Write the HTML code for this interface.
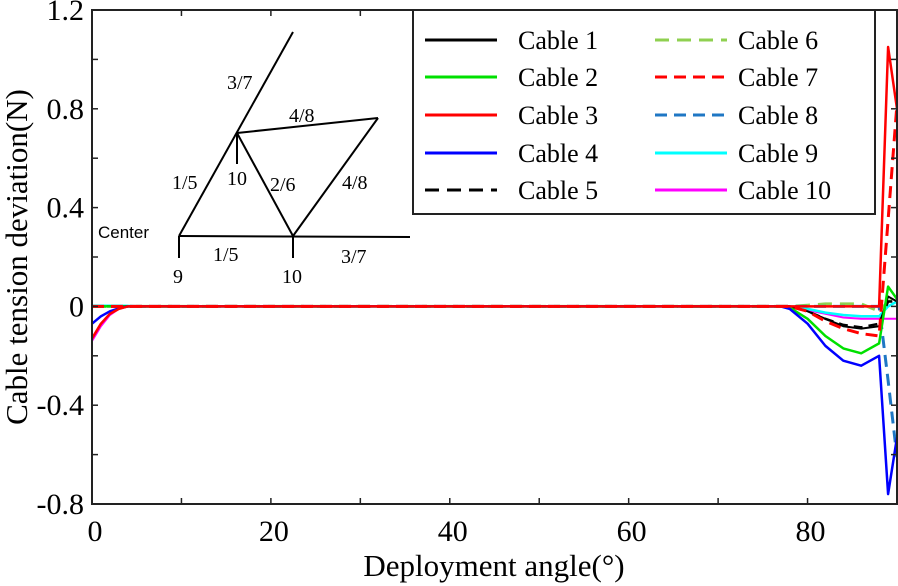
<!DOCTYPE html>
<html><head><meta charset="utf-8">
<style>
html,body{margin:0;padding:0;background:#fff;}
svg{display:block;font-family:"Liberation Serif",serif;}
</style></head>
<body>
<svg id="chart" width="898" height="586" viewBox="0 0 898 586" xmlns="http://www.w3.org/2000/svg">
<g id="marks"></g>
<rect x="92" y="10" width="805" height="494" fill="none" stroke="#222" stroke-width="2"/>
<g id="ticks"></g>
<text transform="translate(27,257) rotate(-90)" text-anchor="middle" font-size="31">Cable tension deviation(N)</text>
<text x="494" y="576" text-anchor="middle" font-size="31">Deployment angle(°)</text>
<g stroke="#000" stroke-width="2" fill="none">
<line x1="179" y1="236" x2="293" y2="32"/>
<line x1="237" y1="133" x2="237" y2="164"/>
<line x1="237" y1="133" x2="378" y2="118"/>
<line x1="378" y1="118" x2="293" y2="236"/>
<line x1="237" y1="133" x2="293" y2="236"/>
<line x1="179" y1="236" x2="410" y2="237"/>
<line x1="179" y1="236" x2="179" y2="258"/>
<line x1="293" y1="236" x2="293" y2="258"/>
</g>
<g font-size="20" fill="#000">
<text x="227" y="89">3/7</text><text x="289" y="122">4/8</text>
<text x="172" y="189">1/5</text><text x="227" y="185">10</text>
<text x="270" y="191">2/6</text><text x="342" y="189">4/8</text>
<text x="98" y="238" font-family="Liberation Sans,sans-serif" font-size="17">Center</text>
<text x="213" y="261">1/5</text><text x="341" y="263">3/7</text>
<text x="173" y="283">9</text><text x="282" y="283">10</text>
</g>
<g>
<rect x="413" y="10" width="462" height="204" fill="#fff" stroke="#222" stroke-width="2"/>
<g id="legend-items"></g>
</g>
</svg>
<script>
const angles = [0,1,2,3,4,5,77,78,80,82,84,86,88,89,90];
const cable1 = [0,0,0,0,0,0,0,0,-0.02,-0.05,-0.08,-0.09,-0.08,0.04,0.02];
const cable2 = [0,0,0,0,0,0,0,-0.005,-0.05,-0.12,-0.17,-0.19,-0.15,0.08,0.03];
const cable3 = [-0.13,-0.07,-0.03,-0.01,0,0,0,0,0,0,0,0,0,1.05,0.8];
const cable4 = [-0.07,-0.04,-0.02,-0.008,0,0,0,-0.01,-0.07,-0.16,-0.22,-0.24,-0.2,-0.76,-0.53];
const cable5 = [0,0,0,0,0,0,0,0,-0.02,-0.05,-0.075,-0.085,-0.07,0.02,0.02];
const cable6 = [0,0,0,0,0,0,0,0,0.005,0.01,0.01,0.01,-0.02,0.02,0.03];
const cable7 = [0,0,0,0,0,0,0,0,-0.02,-0.06,-0.09,-0.11,-0.12,0.35,0.82];
const cable8 = [0,0,0,0,0,0,0,0,0,0,0,0,0,-0.3,-0.61];
const cable9 = [0.003,0.003,0.003,0.003,0.002,0,0,0,-0.01,-0.025,-0.035,-0.04,-0.04,0,0.02];
const cable10 = [-0.14,-0.08,-0.035,-0.01,0,0,0,0,-0.015,-0.03,-0.045,-0.05,-0.05,-0.05,-0.05];
const xTicks = [0,20,40,60,80];
const yTicks = [-0.8,-0.4,0,0.4,0.8,1.2];
const yTickLabels = ["-0.8","-0.4","0","0.4","0.8","1.2"];
const seriesNames = ["Cable 1","Cable 2","Cable 3","Cable 4","Cable 5","Cable 6","Cable 7","Cable 8","Cable 9","Cable 10"];

const NS="http://www.w3.org/2000/svg";
const X0=92,X1=897,Y0=504,Y1=10;
function xs(v){return X0+(v-0)/(90-0)*(X1-X0);}
function ys(v){return Y0-(v+0.8)/2.0*(Y0-Y1);}
const data=[cable1,cable2,cable3,cable4,cable5,cable6,cable7,cable8,cable9,cable10];
const styles=[
 {c:"#000",d:"",w:2},{c:"#00e000",d:"",w:2.5},{c:"#ff0000",d:"",w:2.5},{c:"#0000ff",d:"",w:2.5},
 {c:"#000",d:"9,6",w:2.5},{c:"#8fd050",d:"14,8",w:3},{c:"#ff0000",d:"12,7",w:3},
 {c:"#1f77c4",d:"12,7",w:3},{c:"#00ffff",d:"",w:2.5},{c:"#ff00ff",d:"",w:2}];
const order=[5,7,9,8,0,4,1,3,6,2];
const marks=document.getElementById('marks');
order.forEach(i=>{
  const p=document.createElementNS(NS,'polyline');
  
  
  p.setAttribute('points',data[i].map((v,k)=>xs(angles[k]).toFixed(1)+','+ys(v).toFixed(1)).join(' '));
  p.setAttribute('fill','none');p.setAttribute('stroke',styles[i].c);
  p.setAttribute('stroke-width',styles[i].w);
  p.setAttribute('stroke-linejoin','round');
  if(styles[i].d)p.setAttribute('stroke-dasharray',styles[i].d);
  marks.appendChild(p);
});
const tk=document.getElementById('ticks');
function ln(x1,y1,x2,y2){const l=document.createElementNS(NS,'line');
 l.setAttribute('x1',x1);l.setAttribute('y1',y1);l.setAttribute('x2',x2);l.setAttribute('y2',y2);
 l.setAttribute('stroke','#222');l.setAttribute('stroke-width',1.5);
 
 
 tk.appendChild(l);}
for(let v=10;v<90;v+=10){ln(xs(v),Y0,xs(v),Y0-6);ln(xs(v),Y1,xs(v),Y1+6);}
for(let k=-3;k<6;k++){const v=k*0.2;ln(X0,ys(v),X0+6,ys(v));ln(X1,ys(v),X1-6,ys(v));}
xTicks.forEach(v=>{const t=document.createElementNS(NS,'text');
 
 
 t.setAttribute('x',xs(v)+3);t.setAttribute('y',541);t.setAttribute('text-anchor','middle');
 t.setAttribute('font-size','30');t.textContent=v;tk.appendChild(t);});
yTicks.forEach((v,k)=>{const t=document.createElementNS(NS,'text');
 
 
 t.setAttribute('x',84);t.setAttribute('y',ys(v)+10);t.setAttribute('text-anchor','end');
 t.setAttribute('font-size','30');t.textContent=yTickLabels[k];tk.appendChild(t);});
const lg=document.getElementById('legend-items');
seriesNames.forEach((n,i)=>{
  const col=i<5?0:1,row=i%5;
  const lx=col?655:425, tx=col?738:518, y=[40,77,115,153,190][row];
  const l=document.createElementNS(NS,'line');
  
  
  l.setAttribute('x1',lx);l.setAttribute('x2',lx+72);l.setAttribute('y1',y);l.setAttribute('y2',y);
  l.setAttribute('stroke',styles[i].c);l.setAttribute('stroke-width',3);
  if(styles[i].d)l.setAttribute('stroke-dasharray',styles[i].d==="9,6"?"14,8":styles[i].d);
  lg.appendChild(l);
  const t=document.createElementNS(NS,'text');
  
  
  t.setAttribute('x',tx);t.setAttribute('y',y+9);t.setAttribute('font-size','26');t.textContent=n;
  lg.appendChild(t);
});
</script>
</body></html>
